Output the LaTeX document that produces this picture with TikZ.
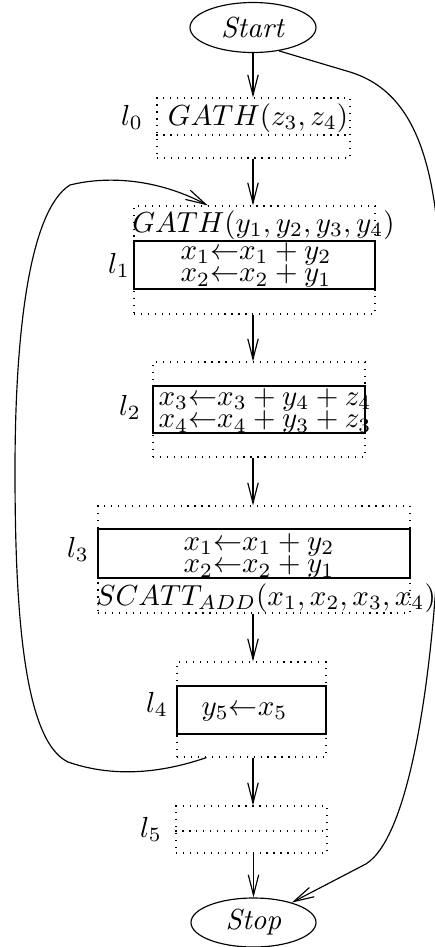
\documentclass[tikz,border=0pt]{standalone}
\usetikzlibrary{arrows.meta,shapes.geometric,fit,calc}
\newcommand\pxu{0.3448pt}
\begin{document}
\begin{tikzpicture}[x=\pxu,y=-\pxu,
  arr/.style={-{Straight Barb[length=7pt,width=3.6pt]}},
  dbox/.style={draw,dotted,inner sep=0pt},
  sbox/.style={draw,inner sep=0pt},
  term/.style={draw,ellipse,inner sep=0pt,minimum width=126*\pxu,minimum height=50*\pxu},
  mtxt/.style={inner sep=0pt,anchor=base},
  lab/.style={inner sep=0pt,anchor=base},
  lines/.style={inner sep=0pt,align=center}]
\useasboundingbox (0,0) rectangle (434,947);
% terminals
\node[term] (st) at (253,27.5) {\textit{Start}};
\node[term,minimum width=125*\pxu,minimum height=49*\pxu] (sp) at (253.5,922.5) {\textit{Stop}};
% l0
\node[dbox,fit={(157,98) (350,158)}] (b0) {};
\draw[dotted] (b0.west |- 0,135) -- (b0.east |- 0,135);
\node[mtxt] (g0) at (258,125) {$GATH(z_3,z_4)$};
\node[lab] (l0) at (132,125) {$l_0$};
% l1
\node[dbox,fit={(134,206) (375,314)}] (b1) {};
\node[sbox,fit={(134,241) (375,289)}] (s1) {};
\node[mtxt] (g1) at (263.5,232) {$GATH(y_1,y_2,y_3,y_4)$};
\node[lines] (e1) at (256,265) {$x_1{\leftarrow}x_1+y_2$\\[-4.2pt]$x_2{\leftarrow}x_2+y_1$};
\node[lab] (l1) at (119,273) {$l_1$};
% l2
\node[dbox,fit={(153,362) (365,457)}] (b2) {};
\node[sbox,fit={(153,386) (365,433)}] (s2) {};
\node[lines] (e2) at (265,411) {$x_3{\leftarrow}x_3+y_4+z_4$\\[-4.2pt]$x_4{\leftarrow}x_4+y_3+z_3$};
\node[lab] (l2) at (130,415) {$l_2$};
% l3
\node[dbox,fit={(98,506) (410,613)}] (b3) {};
\node[sbox,fit={(98,529) (410,578)}] (s3) {};
\node[lines] (e3) at (259,556) {$x_1{\leftarrow}x_1+y_2$\\[-4.2pt]$x_2{\leftarrow}x_2+y_1$};
\node[mtxt] (g3) at (266,605) {$SCATT_{ADD}(x_1,x_2,x_3,x_4)$};
\node[lab] (l3) at (78,557) {$l_3$};
% l4
\node[dbox,fit={(177,662) (326,757)}] (b4) {};
\node[sbox,fit={(177,686) (326,734)}] (s4) {};
\node[mtxt] (e4) at (244.5,715) {$y_5{\leftarrow}x_5$};
\node[lab] (l4) at (157,712) {$l_4$};
% l5
\node[dbox,fit={(176,806) (327,853)}] (b5) {};
\draw[dotted] (b5.west |- 0,831) -- (b5.east |- 0,831);
\node[lab] (l5) at (151,837) {$l_5$};
% vertical flow
\draw[arr] (st) -- (b0.north -| st);
\draw[arr] (b0.south -| st) -- (b1.north -| st);
\draw[arr] (b1.south -| st) -- (b2.north -| st);
\draw[arr] (b2.south -| st) -- (b3.north -| st);
\draw[arr] (b3.south -| st) -- (b4.north -| st);
\draw[arr] (b4.south -| st) -- (b5.north -| st);
\draw[arr] (b5.south -| sp) -- (sp);
% right bypass
\draw[arr] (st.-42) -- (350,72) .. controls (395,86) and (425,125) .. (436,215)
  .. controls (448,300) and (450,480) .. (436,585)
  .. controls (428,700) and (406,847) .. (362,866) -- (sp);
% loop back
\draw[arr] ($(b4.south west)!0.2!(b4.south east)$) .. controls (170,770) and (120,780) .. (68,762)
  .. controls (22,740) and (15,600) .. (15,470)
  .. controls (15,330) and (30,210) .. (70,185)
  .. controls (110,175) and (160,180) .. ($(b1.north west)!0.307!(b1.north east)$);
\end{tikzpicture}
\end{document}
